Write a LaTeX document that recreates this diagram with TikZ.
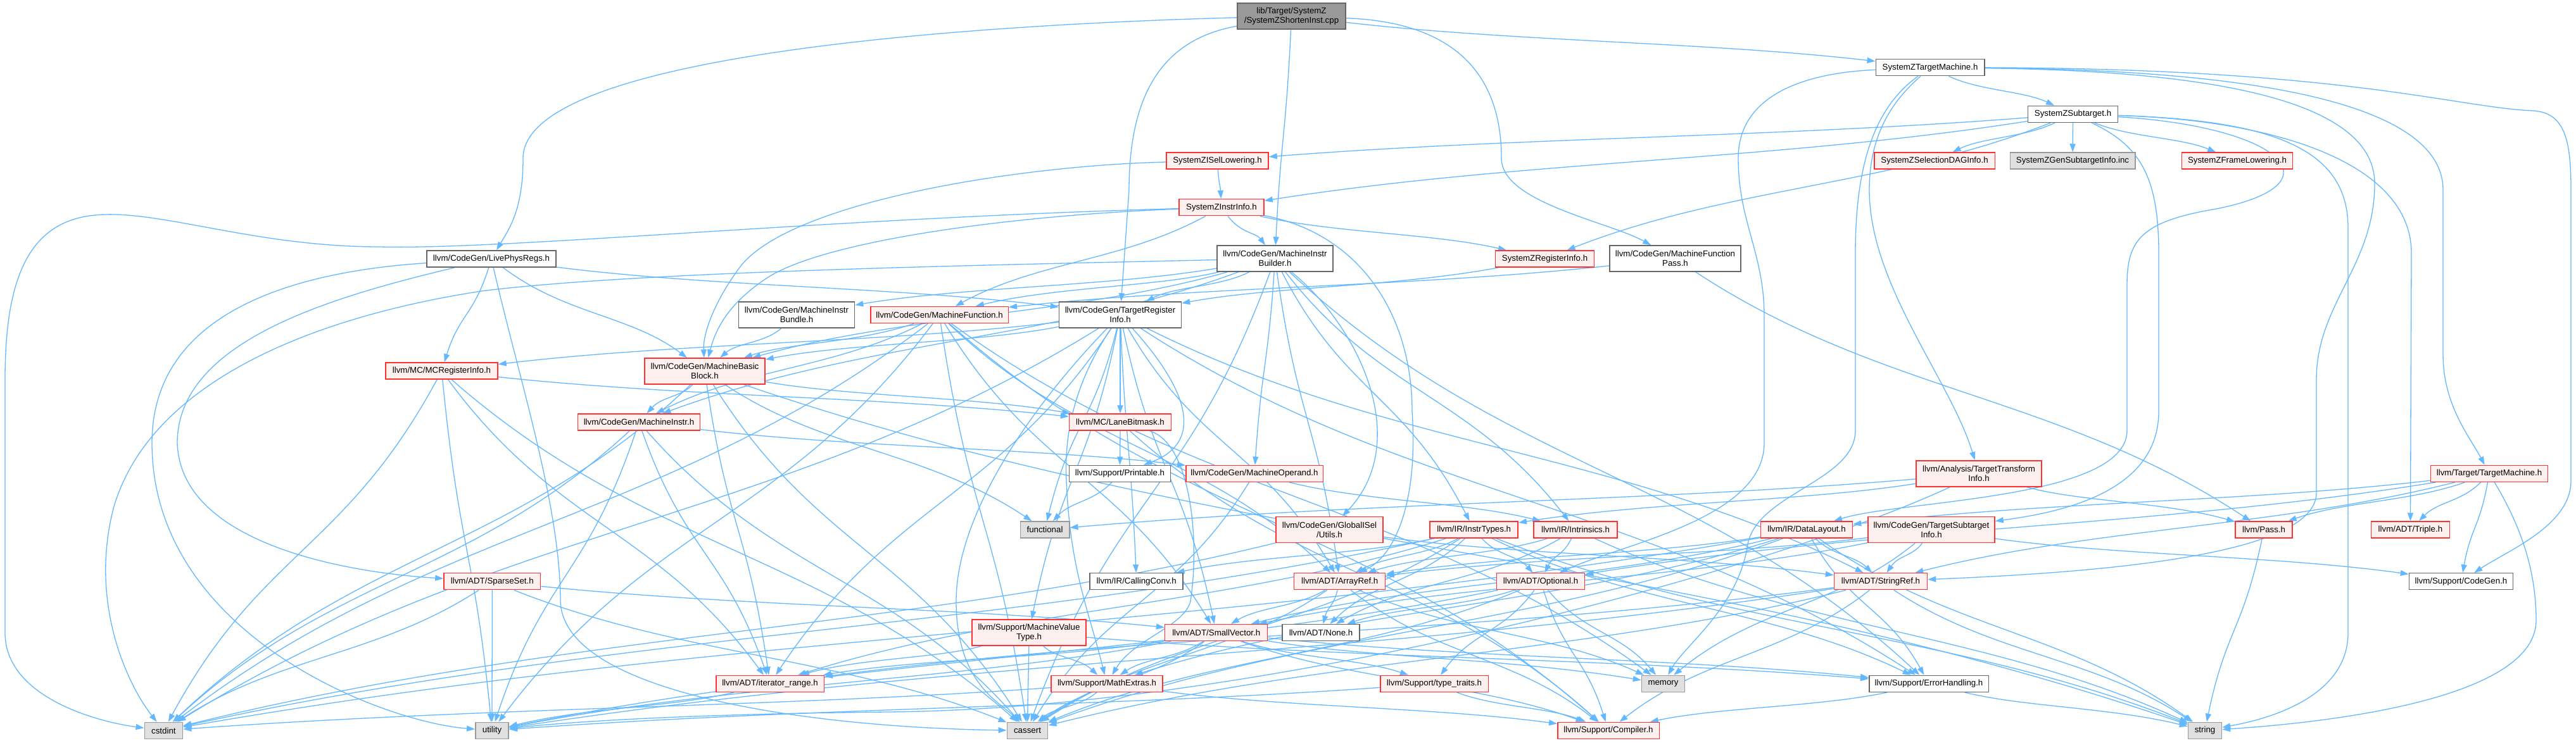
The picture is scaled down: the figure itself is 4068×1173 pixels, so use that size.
\documentclass[tikz,border=0pt]{standalone}
\usepackage{fontspec}
\setmainfont{Liberation Sans}
\usetikzlibrary{arrows.meta,backgrounds,calc}
\definecolor{edgec}{HTML}{63B8FF}
\definecolor{redb}{HTML}{FF3030}
\definecolor{redf}{HTML}{FFF0F0}
\definecolor{grayb}{HTML}{999999}
\definecolor{grayf}{HTML}{E0E0E0}
\definecolor{darkb}{HTML}{666666}
\definecolor{rootf}{HTML}{999999}
\newcommand\nfont{\fontsize{13.3pt}{15pt}\selectfont}
\newcommand\mynode[6]{\node[#1, minimum width=#5pt] (#2) at (#3,#4) {#6};}
\newcommand\sedge[2]{%
  \coordinate (em) at ($(#1)!0.5!(#2)$);
  \coordinate (ep) at ($(#1)!0.35!(#2)$);
  \coordinate (eq) at ($(#1)!0.65!(#2)$);
  \draw[edge] (#1) .. controls (ep |- em) and (eq |- em) .. (#2);}
\tikzset{
  box/.style={rectangle, line width=1.5pt, inner sep=0pt, minimum height=26pt, align=center, font=\nfont, text=black},
  tall/.style={minimum height=41pt},
  nr/.style={box, draw=redb, fill=redf},
  nw/.style={box, draw=darkb, fill=white},
  ng/.style={box, draw=grayb, fill=grayf},
  nroot/.style={box, draw=darkb, fill=rootf},
  edge/.style={draw=edgec, line width=1.3pt, -{Triangle[length=13pt,width=9pt]}},
}
\begin{document}
\begin{tikzpicture}[x=1pt,y=-1pt]
\useasboundingbox (0,0) rectangle (4068,1173);
% nodes
\mynode{nroot,tall}{root}{2039.5}{25.5}{171}{lib/Target/SystemZ\\/SystemZShortenInst.cpp}
\mynode{nw}{tm}{3048}{106.7}{171.5}{SystemZTargetMachine.h}
\mynode{nw}{st}{3273.5}{180.3}{142}{SystemZSubtarget.h}
\mynode{nr}{isel}{1922.5}{254}{161}{SystemZISelLowering.h}
\mynode{nr}{dag}{3055}{254}{190.5}{SystemZSelectionDAGInfo.h}
\mynode{ng}{gen}{3273}{254}{197.5}{SystemZGenSubtargetInfo.inc}
\mynode{nr}{fl}{3533}{254}{175}{SystemZFrameLowering.h}
\mynode{nr}{ii}{1929}{327.7}{134}{SystemZInstrInfo.h}
\mynode{nw}{lpr}{776}{409}{204}{llvm/CodeGen/LivePhysRegs.h}
\mynode{nw,tall}{mib}{2013.5}{408.5}{183}{llvm/CodeGen/MachineInstr\\Builder.h}
\mynode{nr}{zri}{2439.5}{409}{156}{SystemZRegisterInfo.h}
\mynode{nw,tall}{mfp}{2645.5}{408.5}{207}{llvm/CodeGen/MachineFunction\\Pass.h}
\mynode{nw,tall}{bun}{1258}{497.5}{183}{llvm/CodeGen/MachineInstr\\Bundle.h}
\mynode{nr}{mf}{1483.5}{497.5}{217.5}{llvm/CodeGen/MachineFunction.h}
\mynode{nw,tall}{tri}{1769}{497.5}{193}{llvm/CodeGen/TargetRegister\\Info.h}
\mynode{nr}{mcri}{697.5}{586}{177}{llvm/MC/MCRegisterInfo.h}
\mynode{nr,tall}{mbb}{1113}{586.5}{190}{llvm/CodeGen/MachineBasic\\Block.h}
\mynode{nr}{mi}{1009}{667}{193}{llvm/CodeGen/MachineInstr.h}
\mynode{nr}{lane}{1769}{667}{161}{llvm/MC/LaneBitmask.h}
\mynode{nw}{prt}{1768.5}{748.3}{160}{llvm/Support/Printable.h}
\mynode{nr}{mop}{1981}{748.3}{216.5}{llvm/CodeGen/MachineOperand.h}
\mynode{nr,tall}{tti}{3125}{748.3}{198}{llvm/Analysis/TargetTransform\\Info.h}
\mynode{nr}{ltm}{3931}{748.3}{185}{llvm/Target/TargetMachine.h}
\mynode{ng}{func}{1650}{837}{77.5}{functional}
\mynode{nr,tall}{gutil}{2099.5}{837}{169}{llvm/CodeGen/GlobalISel\\/Utils.h}
\mynode{nr}{itypes}{2327.7}{837}{139}{llvm/IR/InstrTypes.h}
\mynode{nr}{intr}{2488}{837}{132}{llvm/IR/Intrinsics.h}
\mynode{nr}{dl}{2853}{837}{145}{llvm/IR/DataLayout.h}
\mynode{nr,tall}{tsi}{3050}{837}{200}{llvm/CodeGen/TargetSubtarget\\Info.h}
\mynode{nr}{pass}{3575}{837}{90}{llvm/Pass.h}
\mynode{nr}{triple}{3806.4}{837}{124}{llvm/ADT/Triple.h}
\mynode{nr}{sparse}{777.3}{918.7}{152.6}{llvm/ADT/SparseSet.h}
\mynode{nw}{cconv}{1794.7}{918.7}{147}{llvm/IR/CallingConv.h}
\mynode{nr}{aref}{2115.7}{918.7}{144}{llvm/ADT/ArrayRef.h}
\mynode{nr}{opt}{2433}{918.7}{139}{llvm/ADT/Optional.h}
\mynode{nr}{sref}{2970}{918.7}{147}{llvm/ADT/StringRef.h}
\mynode{nw}{cg}{3886.5}{918.7}{164}{llvm/Support/CodeGen.h}
\mynode{nr,tall}{mvt}{1625}{999.7}{180}{llvm/Support/MachineValue\\Type.h}
\mynode{nr}{svec}{1920.7}{999.5}{162}{llvm/ADT/SmallVector.h}
\mynode{nw}{none}{2086}{999.5}{122}{llvm/ADT/None.h}
\mynode{nr}{irange}{1216}{1080.3}{170.5}{llvm/ADT/iterator\_range.h}
\mynode{nr}{mext}{1748}{1080.3}{176}{llvm/Support/MathExtras.h}
\mynode{nr}{ttr}{2265}{1080.3}{170.5}{llvm/Support/type\_traits.h}
\mynode{ng}{mem}{2626.5}{1080.3}{68}{memory}
\mynode{nw}{eh}{3046}{1080.3}{188.5}{llvm/Support/ErrorHandling.h}
\mynode{ng}{cstdint}{258.4}{1154.3}{60.3}{cstdint}
\mynode{ng}{util}{777}{1154.3}{52.4}{utility}
\mynode{ng}{cass}{1622.5}{1154.3}{64.4}{cassert}
\mynode{nr}{comp}{2540}{1154.3}{160.5}{llvm/Support/Compiler.h}
\mynode{ng}{str}{3482}{1154.3}{53}{string}
% edges
\begin{scope}[on background layer]
\fill[white] (0,0) rectangle (4068,1173);
\foreach \a/\b in {root/tm, root/mib, tm/st,
 st/isel, st/ii, st/zri, st/dag, st/gen, st/fl, isel/ii,
 ii/zri, ii/mf, ii/mib,
 lpr/mbb, lpr/tri, lpr/mcri,
 mib/aref, mib/mbb, mib/mf, mib/mi, mib/bun, mib/mop, mib/tri, mib/itypes, mib/intr, mib/eh, mib/cass,
 zri/tri, mfp/mf, mfp/pass, bun/mbb,
 mf/aref, mf/svec, mf/mbb, mf/mi, mf/comp, mf/cass, mf/mem, mf/util, mf/cstdint,
 tri/aref, tri/svec, tri/sref, tri/irange, tri/mbb, tri/cconv, tri/lane, tri/mcri, tri/eh, tri/mvt, tri/func, tri/cstdint,
 mbb/mi, mbb/lane, mbb/irange, mbb/cass, mbb/func, mbb/str, mbb/cstdint,
 mcri/irange, mcri/lane, mcri/cass, mcri/cstdint, mcri/util,
 mi/mop, mi/irange, mi/cass, mi/cstdint, mi/util,
 lane/prt, lane/comp, prt/func, mop/intr, mop/cass,
 tti/func, tti/itypes, tti/pass,
 ltm/opt, ltm/sref, ltm/triple, ltm/dl, ltm/pass, ltm/cg,
 gutil/sref, gutil/cstdint,
 itypes/aref, itypes/none, itypes/opt, itypes/irange, itypes/cconv, itypes/eh, itypes/cass, itypes/cstdint, itypes/str,
 intr/aref, intr/none, intr/opt, intr/str,
 dl/aref, dl/svec, dl/sref, dl/eh, dl/mext, dl/cass, dl/cstdint, dl/str,
 tsi/aref, tsi/svec, tsi/sref, tsi/cg, tsi/mem,
 pass/str,
 sparse/svec, sparse/cass, sparse/cstdint, sparse/util,
 aref/none, aref/svec, aref/comp, aref/cass, aref/mem,
 opt/none, opt/comp, opt/ttr, opt/cass, opt/mem, opt/util,
 sref/irange, sref/comp, sref/cass, sref/str, sref/util,
 mvt/irange, mvt/eh, mvt/mext, mvt/cass,
 svec/irange, svec/comp, svec/eh, svec/ttr, svec/mext, svec/cass, svec/mem, svec/util,
 irange/util, mext/comp, mext/cass, mext/cstdint, ttr/comp, ttr/util, eh/comp, eh/str}
 { \sedge{\a}{\b} }
% curved edges
\draw[edge] (root) .. controls (1500,40) and (826,90) .. (826,250) .. controls (826,330) and (805,360) .. (lpr);
\draw[edge] (root) .. controls (2300,35) and (2371,120) .. (2371,250) .. controls (2371,320) and (2540,350) .. (mfp);
\draw[edge] (root) .. controls (1850,60) and (1783,130) .. (1783,300) -- (tri);
\draw[edge] (ii) .. controls (1300,345) and (800,395) .. (600,390) .. controls (400,390) and (250,330) .. (150,340) .. controls (40,350) and (8,450) .. (8,600) -- (8,1000) .. controls (8,1100) and (150,1140) .. (cstdint);
\draw[edge] (lpr) .. controls (450,430) and (240,500) .. (240,700) .. controls (240,1000) and (600,1140) .. (util);
\draw[edge] (lpr) .. controls (520,470) and (280,540) .. (280,700) .. controls (285,860) and (550,905) .. (sparse);
\draw[edge] (lpr) .. controls (820,600) and (885,800) .. (885,950) .. controls (890,1100) and (1300,1150) .. (cass);
\draw[edge] (isel) .. controls (1600,262) and (1250,320) .. (1170,420) .. controls (1125,480) and (1110,530) .. (mbb);
\draw[edge] (ii) .. controls (1600,340) and (1300,380) .. (1210,440) .. controls (1150,480) and (1130,520) .. (mbb);
\draw[edge] (ii) .. controls (2150,370) and (2230,500) .. (2230,650) .. controls (2240,800) and (2200,880) .. (aref);
\draw[edge] (tm) .. controls (3000,150) and (2952,200) .. (2952,300) .. controls (2952,450) and (3080,600) .. (tti);
\draw[edge] (tm) .. controls (2850,115) and (2745,150) .. (2745,250) .. controls (2745,350) and (2786,400) .. (2786,500) -- (2786,700) .. controls (2786,820) and (2560,860) .. (opt);
\draw[edge] (tm) .. controls (2960,170) and (2930,260) .. (2930,400) -- (2930,680) .. controls (2930,760) and (2775,780) .. (2760,860) .. controls (2745,960) and (2660,1020) .. (mem);
\draw[edge] (tm) .. controls (3500,110) and (3858,150) .. (3858,300) -- (3858,560) .. controls (3858,640) and (3900,690) .. (ltm);
\draw[edge] (tm) .. controls (3700,108) and (3880,170) .. (4000,175) .. controls (4050,178) and (4060,220) .. (4060,300) -- (4060,760) .. controls (4060,830) and (3960,870) .. (cg);
\draw[edge] (tm) .. controls (3500,112) and (3750,160) .. (3750,290) .. controls (3750,420) and (3658,480) .. (3658,600) -- (3658,780) .. controls (3655,880) and (3300,905) .. (sref);
\draw[edge] (st) .. controls (3600,190) and (3808,260) .. (3808,400) -- (triple);
\draw[edge] (st) .. controls (3380,230) and (3409,280) .. (3409,400) -- (3409,650) .. controls (3409,780) and (3250,810) .. (tsi);
\draw[edge] (st) .. controls (3600,200) and (3700,290) .. (3500,330) .. controls (3380,350) and (3359,380) .. (3359,450) -- (3359,680) .. controls (3359,790) and (3000,790) .. (dl);
\draw[edge] (st) .. controls (3600,190) and (3708,240) .. (3708,360) -- (3708,1000) .. controls (3708,1110) and (3560,1140) .. (str);
\draw[edge] (ltm) .. controls (3980,830) and (4005,900) .. (4005,980) .. controls (4005,1100) and (3700,1140) .. (str);
\draw[edge] (tri) .. controls (1880,620) and (1900,700) .. (prt);
\draw[edge] (tri) .. controls (1650,620) and (1510,800) .. (1510,950) .. controls (1510,1080) and (1580,1110) .. (cass);
\draw[edge] (tri) .. controls (1700,600) and (1680,680) .. (1684,760) .. controls (1690,900) and (1718,960) .. (mext);
\draw[edge] (mib) .. controls (1500,420) and (1000,430) .. (760,460) .. controls (500,500) and (240,600) .. (180,800) .. controls (140,950) and (200,1080) .. (cstdint);
\draw[edge] (mib) .. controls (2150,520) and (2230,700) .. (gutil);
\draw[edge] (lane) .. controls (1880,700) and (1895,850) .. (1880,950) .. controls (1870,990) and (1790,1010) .. (mext);
\draw[edge] (tti) .. controls (2800,900) and (2000,1120) .. (1400,1125) .. controls (1100,1128) and (900,1140) .. (util);
\end{scope}
\end{tikzpicture}
\end{document}
